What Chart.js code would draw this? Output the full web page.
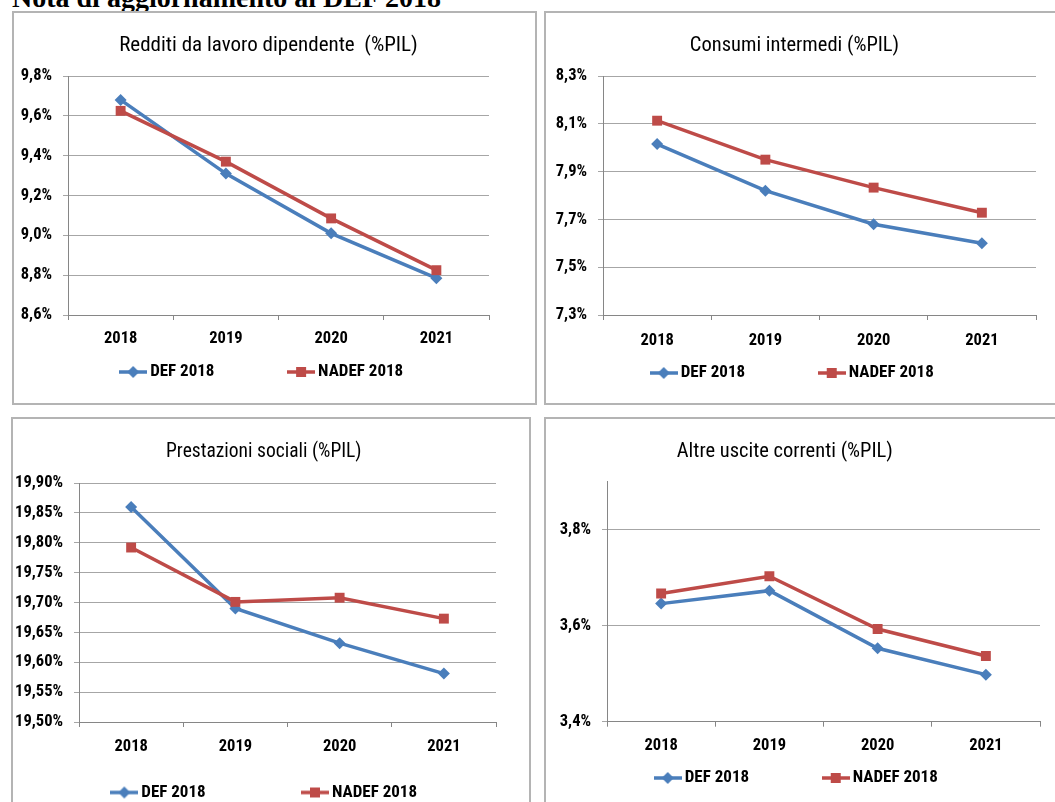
<!DOCTYPE html>
<html>
<head>
<meta charset="utf-8">
<script src="https://cdn.jsdelivr.net/npm/chart.js@4.4.0/dist/chart.umd.min.js"></script>
<style>
html, body { margin: 0; padding: 0; background: #fff; width: 1055px; height: 802px; overflow: hidden; position: relative; }
#doc-title { position: absolute; left: 12px; top: -16px; font: bold 28px/28px "Liberation Serif", "Times New Roman", serif; color: #000; white-space: nowrap; }
.panel { position: absolute; box-sizing: border-box; border: 2px solid #b4b4b4; background: #fff; }
.panel canvas { display: block; }
</style>
</head>
<body>
<div id="doc-title">Nota di aggiornamento al DEF 2018</div>
<div class="panel" style="left:12px;top:11px;width:525px;height:394px"><canvas id="c1" width="521" height="390"></canvas></div>
<div class="panel" style="left:544px;top:11px;width:520px;height:394px"><canvas id="c2" width="516" height="390"></canvas></div>
<div class="panel" style="left:11px;top:417px;width:520px;height:400px"><canvas id="c3" width="516" height="396"></canvas></div>
<div class="panel" style="left:544px;top:417px;width:520px;height:400px"><canvas id="c4" width="516" height="396"></canvas></div>
<script>
// data
var years = ['2018', '2019', '2020', '2021'];
var seriesNames = ['DEF 2018', 'NADEF 2018'];

var redditiDef   = [9.68, 9.31, 9.01, 8.785];
var redditiNadef = [9.625, 9.37, 9.085, 8.825];
var redditiTicks = [8.6, 8.8, 9.0, 9.2, 9.4, 9.6, 9.8];

var consumiDef   = [8.015, 7.82, 7.68, 7.60];
var consumiNadef = [8.113, 7.95, 7.833, 7.728];
var consumiTicks = [7.3, 7.5, 7.7, 7.9, 8.1, 8.3];

var prestazioniDef   = [19.86, 19.69, 19.632, 19.581];
var prestazioniNadef = [19.792, 19.701, 19.708, 19.673];
var prestazioniTicks = [19.50, 19.55, 19.60, 19.65, 19.70, 19.75, 19.80, 19.85, 19.90];

var altreDef   = [3.646, 3.673, 3.553, 3.498];
var altreNadef = [3.667, 3.703, 3.593, 3.537];
var altreTicks = [3.4, 3.6, 3.8];

var FONT = '"Roboto Condensed", "Liberation Sans", Arial, sans-serif';
var BLUE = '#4a7ebb';
var RED = '#be4b48';

// legend icon: line with marker
function legendIcon(color, style) {
	var c = document.createElement('canvas');
	c.width = 28; c.height = 14;
	var g = c.getContext('2d');
	g.strokeStyle = color; g.fillStyle = color; g.lineWidth = 3.5;
	g.beginPath(); g.moveTo(0, 7); g.lineTo(28, 7); g.stroke();
	g.beginPath();
	if (style == 'rectRot') {
		g.moveTo(8, 7); g.lineTo(14, 1); g.lineTo(20, 7); g.lineTo(14, 13);
	} else {
		g.rect(9, 2, 10, 10);
	}
	g.fill();
	return c;
}

// pad text with spaces (px > 0 trailing, px < 0 leading), used for spacing only
function padText(text, px, font) {
	if (!px) return text;
	var g = document.createElement('canvas').getContext('2d');
	g.font = font;
	var base = g.measureText(text).width;
	var sp = '';
	while (g.measureText(text + sp).width - base < Math.abs(px)) sp += '\u2009';
	return px > 0 ? text + sp : sp + text;
}

function makeChart(id, title, def, nadef, ticks, dec, lay) {
	var yMax = lay.yMax !== undefined ? lay.yMax : ticks[ticks.length - 1];
	var legendFont = 'bold 17px ' + FONT;
	var tpt = 33 - lay.tf * 0.6;
	return new Chart(document.getElementById(id), {
		type: 'line',
		data: {
			labels: years,
			datasets: [
				{
					label: seriesNames[0], data: def, order: 1,
					borderColor: BLUE, backgroundColor: BLUE, borderWidth: 3.5,
					pointStyle: 'rectRot', pointRadius: 6, pointBorderWidth: 0,
					pointBackgroundColor: BLUE, tension: 0
				},
				{
					label: seriesNames[1], data: nadef, order: 0,
					borderColor: RED, backgroundColor: RED, borderWidth: 3.5,
					pointStyle: 'rect', pointRadius: 7, pointBorderWidth: 0,
					pointBackgroundColor: RED, tension: 0
				}
			]
		},
		options: {
			responsive: false,
			animation: false,
			layout: { padding: { left: lay.pl, right: lay.pr, top: 0, bottom: lay.pb } },
			plugins: {
				tooltip: { enabled: false },
				title: {
					display: true, fullSize: lay.tFull, color: '#000',
					text: padText(title, lay.ts, lay.tf + 'px ' + FONT),
					font: { family: FONT, size: lay.tf, weight: 'normal' },
					padding: { top: tpt, bottom: lay.top - tpt - lay.tf * 1.2 }
				},
				legend: {
					position: 'bottom', align: 'center', fullSize: lay.lFull,
					labels: {
						usePointStyle: true, pointStyleWidth: 17, padding: 10,
						color: '#000', font: { family: FONT, size: 17, weight: 'bold' },
						generateLabels: function(chart) {
							return chart.data.datasets.map(function(ds, i) {
								var t = i == 0 ? padText(ds.label, lay.gap - 4.5, legendFont) : padText(ds.label, lay.ns, legendFont);
								return {
									text: t,
									fillStyle: ds.borderColor, strokeStyle: ds.borderColor, lineWidth: 0,
									pointStyle: legendIcon(ds.borderColor, ds.pointStyle),
									datasetIndex: i, hidden: false
								};
							});
						}
					}
				}
			},
			scales: {
				x: {
					offset: true,
					grid: { offset: true, drawOnChartArea: false, tickLength: 5, color: '#868686' },
					border: { color: '#868686', width: 1 },
					ticks: { color: '#000', padding: lay.xp, maxRotation: 0, font: { family: FONT, size: 16.5, weight: 'bold' } },
					afterFit: function(s) { s.height = lay.xh; }
				},
				y: {
					min: ticks[0], max: yMax,
					grid: { color: '#a6a6a6', tickLength: 5 },
					border: { color: '#868686', width: 1 },
					ticks: {
						color: '#000', padding: 11, font: { family: FONT, size: 16.5, weight: 'bold' },
						callback: function(v) { return v.toFixed(dec).replace('.', ',') + '%'; }
					},
					afterBuildTicks: function(s) { s.ticks = ticks.map(function(v) { return { value: v }; }); },
					afterFit: function(s) { s.width = lay.yw; }
				}
			}
		}
	});
}

makeChart('c1', 'Redditi da lavoro dipendente  (%PIL)', redditiDef, redditiNadef, redditiTicks, 1,
	{ pl: 4, pr: 46, pb: 12.5, yw: 50, tf: 21, top: 63, xp: 9.1, xh: 38.5, gap: 72, tFull: false, ts: 17, lFull: false, ns: 27 });
makeChart('c2', 'Consumi intermedi (%PIL)', consumiDef, consumiNadef, consumiTicks, 1,
	{ pl: 7, pr: 26, pb: 11.5, yw: 50, tf: 20.5, top: 63, xp: 11.1, xh: 39.5, gap: 72, tFull: true, ts: 0, lFull: true, ns: 0 });
makeChart('c3', 'Prestazioni sociali (%PIL)', prestazioniDef, prestazioniNadef, prestazioniTicks, 2,
	{ pl: 0, pr: 33, pb: 4, yw: 66, tf: 19.5, top: 64, xp: 10.1, xh: 52, gap: 94, tFull: true, ts: -16, lFull: false, ns: 42 });
makeChart('c4', 'Altre uscite correnti (%PIL)', altreDef, altreNadef, altreTicks, 1,
	{ pl: 11, pr: 22, pb: 18.5, yw: 50, tf: 20.5, top: 62.7, xp: 9.4, xh: 37.8, gap: 71, tFull: true, ts: 27, lFull: true, ns: 0, yMax: 3.9 });
</script>
</body>
</html>
